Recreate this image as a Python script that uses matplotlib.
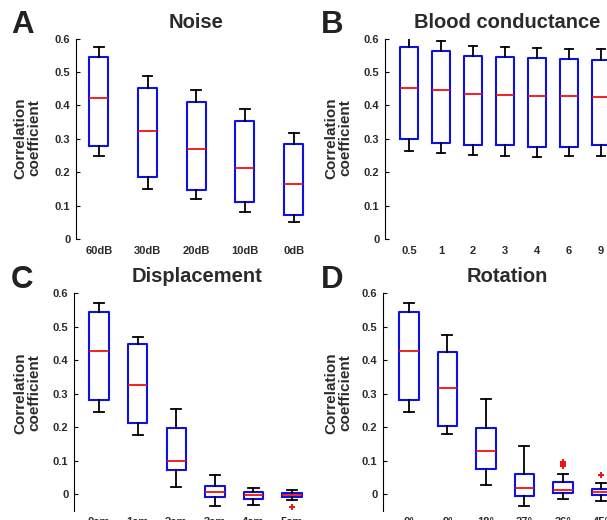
import matplotlib
matplotlib.use("Agg")
import matplotlib.pyplot as plt

plt.rcParams["font.family"] = ["Liberation Sans", "DejaVu Sans"]
plt.rcParams["font.weight"] = "bold"

W, H = 607, 520

# --- data (box stats) ---
noise_labels = ["60dB", "30dB", "20dB", "10dB", "0dB"]
noise_whislo = [0.249, 0.151, 0.120, 0.081, 0.051]
noise_q1 = [0.280, 0.187, 0.147, 0.111, 0.072]
noise_med = [0.422, 0.325, 0.271, 0.212, 0.166]
noise_q3 = [0.544, 0.452, 0.409, 0.352, 0.285]
noise_whishi = [0.574, 0.487, 0.445, 0.390, 0.319]
noise_fliers = [[], [], [], [], []]

blood_labels = ["0.5", "1", "2", "3", "4", "6", "9"]
blood_whislo = [0.264, 0.257, 0.251, 0.249, 0.246, 0.249, 0.249]
blood_q1 = [0.299, 0.287, 0.283, 0.282, 0.277, 0.277, 0.281]
blood_med = [0.452, 0.445, 0.433, 0.431, 0.428, 0.427, 0.425]
blood_q3 = [0.576, 0.563, 0.549, 0.546, 0.543, 0.539, 0.536]
blood_whishi = [0.611, 0.594, 0.579, 0.576, 0.573, 0.569, 0.568]
blood_fliers = [[], [], [], [], [], [], []]

disp_labels = ["0cm", "1cm", "2cm", "3cm", "4cm", "5cm"]
disp_whislo = [0.246, 0.177, 0.023, -0.035, -0.032, -0.017]
disp_q1 = [0.282, 0.212, 0.071, -0.007, -0.014, -0.007]
disp_med = [0.429, 0.326, 0.100, 0.007, -0.002, -0.001]
disp_q3 = [0.543, 0.449, 0.197, 0.026, 0.006, 0.005]
disp_whishi = [0.572, 0.469, 0.255, 0.056, 0.018, 0.014]
disp_fliers = [[], [], [], [], [], [-0.038]]

rot_labels = ["0°", "9°", "18°", "27°", "36°", "45°"]
rot_whislo = [0.246, 0.179, 0.029, -0.035, -0.015, -0.019]
rot_q1 = [0.282, 0.204, 0.076, -0.004, 0.003, -0.001]
rot_med = [0.429, 0.317, 0.129, 0.020, 0.013, 0.008]
rot_q3 = [0.543, 0.424, 0.199, 0.061, 0.037, 0.017]
rot_whishi = [0.572, 0.475, 0.285, 0.145, 0.061, 0.033]
rot_fliers = [[], [], [], [], [0.083, 0.090, 0.097], [0.057]]

yticks = [0, 0.1, 0.2, 0.3, 0.4, 0.5, 0.6]
ytick_labels = ["0", "0.1", "0.2", "0.3", "0.4", "0.5", "0.6"]

TXT = "#2b2b2b"

fig = plt.figure(figsize=(W / 100, H / 100), dpi=100)


def make_axes(left, top, bottom, xlim, spacing, ylim):
    width = (xlim[1] - xlim[0]) * spacing
    ax = fig.add_axes([left / W, (H - bottom) / H, width / W, (bottom - top) / H])
    ax.set_xlim(*xlim)
    ax.set_ylim(*ylim)
    return ax


def draw_panel(ax, labels, whislo, q1, med, q3, whishi, fliers, box_w, cap_w,
               title, letter, letter_xy, xpad):
    stats = []
    for i in range(len(labels)):
        stats.append(dict(med=med[i], q1=q1[i], q3=q3[i], whislo=whislo[i],
                          whishi=whishi[i], fliers=fliers[i]))
    pos = list(range(1, len(labels) + 1))
    ax.bxp(stats, positions=pos, widths=box_w, capwidths=cap_w,
           manage_ticks=False,
           boxprops=dict(color="#1010e0", lw=1.5),
           medianprops=dict(color="#ee1111", lw=1.3),
           whiskerprops=dict(color="black", lw=1.3),
           capprops=dict(color="black", lw=1.3),
           flierprops=dict(marker="+", markeredgecolor="#ee1111",
                           markersize=4, mew=1.4, linestyle="none"))
    ax.set_xticks(pos, labels)
    ax.set_yticks(yticks, ytick_labels)
    for s in ["top", "right", "bottom"]:
        ax.spines[s].set_visible(False)
    ax.spines["left"].set_linewidth(0.8)
    ax.tick_params(axis="x", length=0, pad=xpad, labelsize=8, labelcolor=TXT)
    ax.tick_params(axis="y", direction="in", length=3, width=0.8, pad=4,
                   labelsize=8, labelcolor=TXT)
    for t in ax.get_xticklabels() + ax.get_yticklabels():
        t.set_fontweight("bold")
    ax.set_title(title, fontsize=14.5, fontweight="bold", color=TXT, pad=8)
    fig.text(letter_xy[0] / W, (H - letter_xy[1]) / H, letter, fontsize=22.5,
             fontweight="bold", color="#222222", ha="left", va="baseline")


def ylabel(x, y):
    fig.text(x / W, (H - y) / H, "Correlation\ncoefficient", rotation=90,
             ha="center", va="center", multialignment="center",
             fontsize=11, fontweight="bold", color=TXT, linespacing=1.0)


axA = make_axes(76, 38.7, 239, (0.53, 5.46), 48.7, (0, 0.6))
draw_panel(axA, noise_labels, noise_whislo, noise_q1, noise_med, noise_q3,
           noise_whishi, noise_fliers, 0.39, 0.2, "Noise", "A", (11, 33), 5)
ylabel(27, 138)

axB = make_axes(385, 38.7, 239, (0.25, 7.88), 32, (0, 0.6))
draw_panel(axB, blood_labels, blood_whislo, blood_q1, blood_med, blood_q3,
           blood_whishi, blood_fliers, 0.56, 0.26, "Blood conductance", "B",
           (321, 33), 5)
ylabel(338, 138)

axC = make_axes(74, 293.3, 511, (0.35, 6.7), 38.6, (-0.05, 0.6))
draw_panel(axC, disp_labels, disp_whislo, disp_q1, disp_med, disp_q3,
           disp_whishi, disp_fliers, 0.5, 0.26, "Displacement", "C",
           (11, 288), 4)
ylabel(27, 393)

axD = make_axes(383, 293.3, 511, (0.325, 6.79), 38.5, (-0.05, 0.6))
draw_panel(axD, rot_labels, rot_whislo, rot_q1, rot_med, rot_q3,
           rot_whishi, rot_fliers, 0.5, 0.26, "Rotation", "D",
           (321, 288), 4)
ylabel(338, 393)

fig.savefig("out.png", dpi=100)
